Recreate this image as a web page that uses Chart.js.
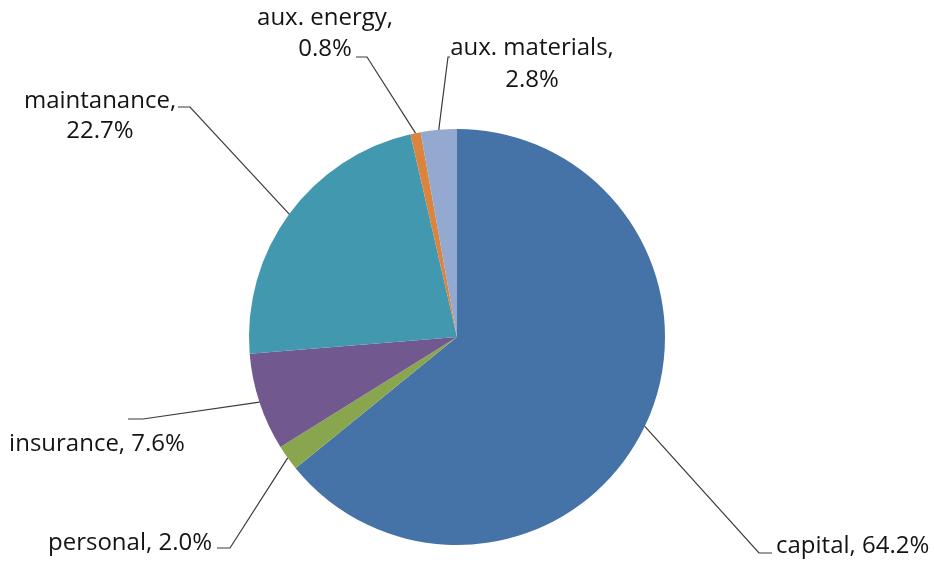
<!DOCTYPE html>
<html>
<head>
<meta charset="utf-8">
<script src="https://cdn.jsdelivr.net/npm/chart.js@4"></script>
<style>
  html, body { margin: 0; padding: 0; background: #fff; }
  #wrap { width: 934px; height: 562px; }
</style>
</head>
<body>
<div id="wrap"><canvas id="costChart"></canvas></div>
<script>
// cost shares (%)
const categories = ['capital', 'personal', 'insurance', 'maintanance', 'aux. energy', 'aux. materials'];
const shares = [64.2, 2.0, 7.6, 22.7, 0.8, 2.8];
const colors = ['#4572A7', '#89A54E', '#71588F', '#4198AF', '#DB843D', '#93A9CF'];

// where each data label sits: elbow of leader line, end of short tick, text block
const labelLayout = [
    { elbow: [759, 553], tick: [772, 553], align: 'left', x: 776, lines: [546], oneLine: true },
    { elbow: [230, 548], tick: [217, 548], align: 'right', x: 212, lines: [543], oneLine: true },
    { elbow: [143, 419], tick: [128, 419], align: 'center', x: 97, lines: [444], oneLine: true },
    { elbow: [190, 107], tick: [178, 107], align: 'center', x: 100, lines: [101, 131] },
    { elbow: [367, 57], tick: [356, 57], align: 'center', x: 325, lines: [18, 49] },
    { elbow: [448, 57], tick: [450, 57], align: 'center', x: 532, lines: [48, 80] }
];

const leaderLabels = {
    id: 'leaderLabels',
    afterDatasetsDraw(chart) {
        const ctx = chart.ctx;
        const arcs = chart.getDatasetMeta(0).data;
        ctx.save();
        ctx.font = '24px "Open Sans", sans-serif';
        ctx.textBaseline = 'middle';
        arcs.forEach((arc, i) => {
            const lay = labelLayout[i];
            const mid = (arc.startAngle + arc.endAngle) / 2;
            const sx = arc.x + Math.cos(mid) * arc.outerRadius;
            const sy = arc.y + Math.sin(mid) * arc.outerRadius;
            ctx.strokeStyle = '#3a3a3a';
            ctx.lineWidth = 1.2;
            ctx.beginPath();
            ctx.moveTo(sx, sy);
            ctx.lineTo(lay.elbow[0], lay.elbow[1]);
            ctx.lineTo(lay.tick[0], lay.tick[1]);
            ctx.stroke();

            const pct = shares[i].toFixed(1) + '%';
            const texts = lay.oneLine ? [categories[i] + ', ' + pct] : [categories[i] + ',', pct];
            ctx.fillStyle = '#141414';
            ctx.textAlign = lay.align;
            texts.forEach((t, k) => ctx.fillText(t, lay.x, lay.lines[k]));
        });
        ctx.restore();
    }
};

new Chart(document.getElementById('costChart').getContext('2d'), {
    type: 'pie',
    data: {
        labels: categories,
        datasets: [{
            data: shares,
            backgroundColor: colors,
            borderWidth: 0
        }]
    },
    options: {
        responsive: true,
        maintainAspectRatio: false,
        animation: false,
        layout: {
            padding: { top: 129, bottom: 17, left: 249, right: 269 }
        },
        plugins: {
            legend: { display: false },
            tooltip: { enabled: false }
        }
    },
    plugins: [leaderLabels]
});
</script>
</body>
</html>
